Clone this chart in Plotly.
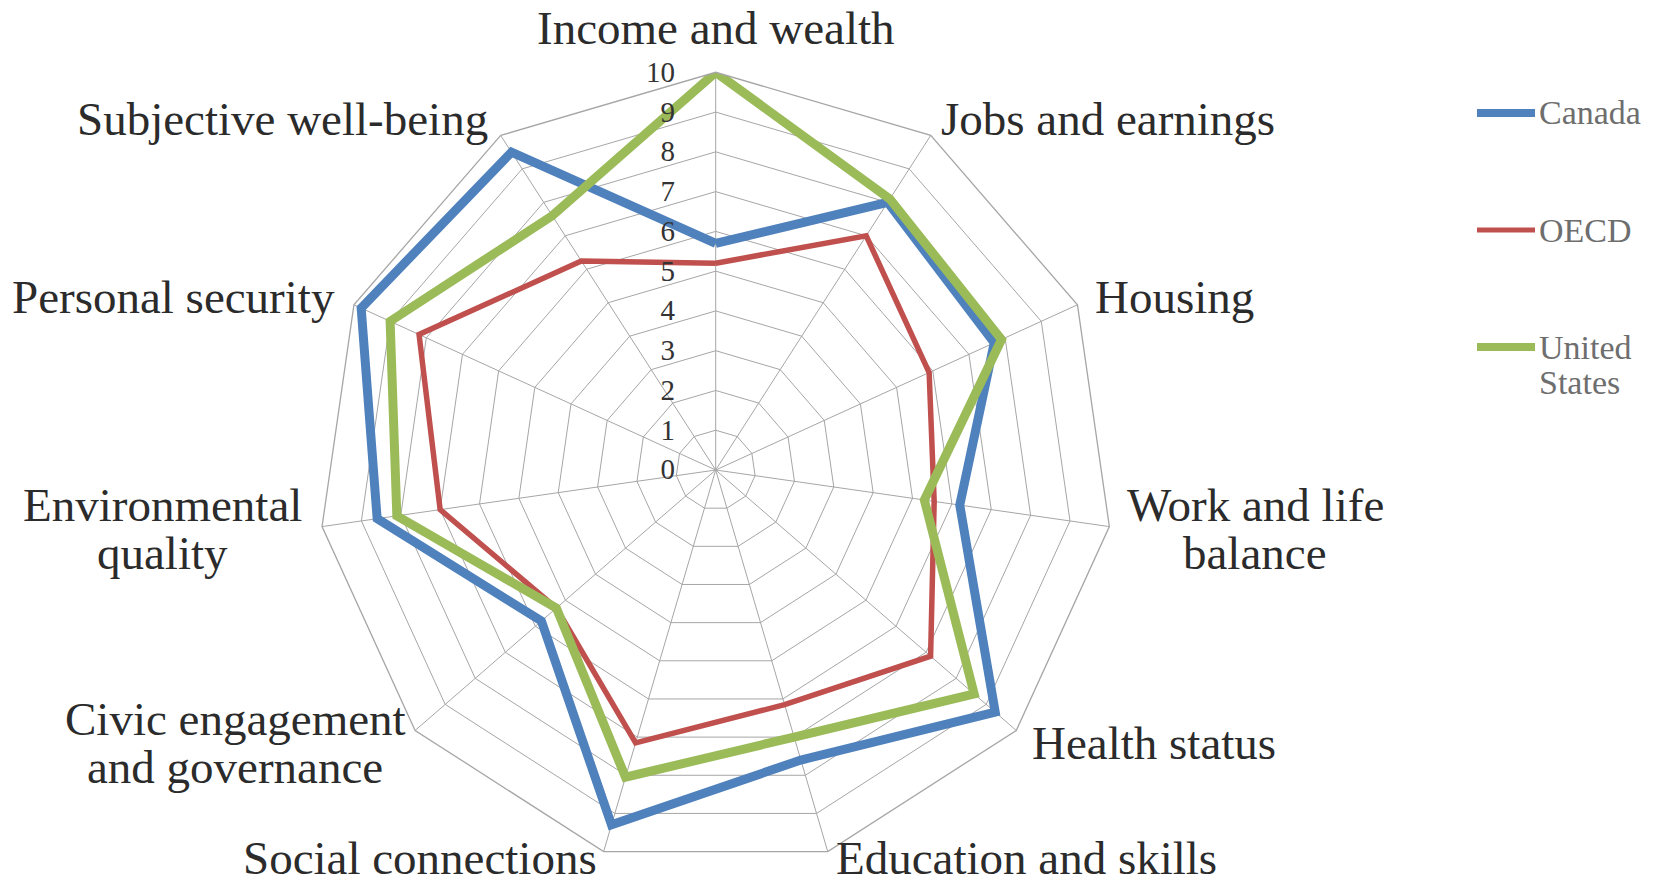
import plotly.graph_objects as go

# ---------------- data ----------------
categories = [
    "Income and wealth", "Jobs and earnings", "Housing", "Work and life balance",
    "Health status", "Education and skills", "Social connections",
    "Civic engagement and governance", "Environmental quality",
    "Personal security", "Subjective well-being",
]
label_lines = [
    ["Income and wealth"], ["Jobs and earnings"], ["Housing"], ["Work and life", "balance"],
    ["Health status"], ["Education and skills"], ["Social connections"],
    ["Civic engagement", "and governance"], ["Environmental", "quality"],
    ["Personal security"], ["Subjective well-being"],
]
canada = [5.7, 8.0, 7.7, 6.2, 9.3, 7.6, 9.3, 5.8, 8.6, 9.8, 9.5]
oecd = [5.2, 7.0, 5.9, 5.55, 7.15, 6.15, 7.15, 5.3, 7.0, 8.2, 6.25]
united_states = [10.0, 8.1, 7.9, 5.3, 8.6, 7.0, 8.05, 5.3, 8.1, 9.0, 7.6]
series_names = ["Canada", "OECD", "United States"]
legend_lines = [["Canada"], ["OECD"], ["United", "States"]]
radial_ticks = list(range(0, 11))

# ---------------- style ----------------
W, H = 1658, 886
colors = ["#4F81BD", "#C0504D", "#9BBB59"]
widths = [9, 5.5, 9]
grid = "#A6A6A6"
label_color = "#2B2B2B"
legend_color = "#6E6E6E"
serif = "Liberation Serif, Times New Roman, serif"

cx, cy, R = 715.7, 470.0, 397.7

fig = go.Figure()
for name, vals, col, w in zip(series_names, [canada, oecd, united_states], colors, widths):
    fig.add_trace(go.Scatterpolar(
        r=vals + vals[:1], theta=categories + categories[:1], mode="lines",
        name=name, line=dict(color=col, width=w), showlegend=False,
        hoverinfo="name+r+theta",
    ))

fig.update_layout(
    width=W, height=H, margin=dict(l=0, r=0, t=0, b=0),
    paper_bgcolor="white", plot_bgcolor="white",
    polar=dict(
        domain=dict(x=[(cx - R) / W, (cx + R) / W], y=[1 - (cy + R) / H, 1 - (cy - R) / H]),
        bgcolor="white", gridshape="linear",
        angularaxis=dict(direction="clockwise", rotation=90, showticklabels=False,
                         ticks="", gridcolor=grid, gridwidth=1.3,
                         showline=True, linecolor=grid, linewidth=1.3),
        radialaxis=dict(range=[0, 10], tickvals=radial_ticks, angle=90, tickangle=90,
                        side="counterclockwise", showline=False, gridcolor=grid, gridwidth=1.3,
                        ticks="outside", ticklen=30, tickcolor="rgba(0,0,0,0)",
                        tickfont=dict(family=serif, size=29, color="#333333")),
    ),
)

# category labels (layout positions in pixels)
label_pos = [
    [(716, 27.5, "center")], [(939, 119.5, "left")], [(1093, 297, "left")],
    [(1255, 505, "center"), (1255, 553, "center")], [(1030, 743, "left")],
    [(834, 858, "left")], [(599, 858, "right")],
    [(235, 719, "center"), (235, 767, "center")],
    [(162, 505, "center"), (162, 553, "center")],
    [(337, 297, "right")], [(490, 119.5, "right")],
]
for lines, poss in zip(label_lines, label_pos):
    for txt, (x, y, anc) in zip(lines, poss):
        fig.add_annotation(x=x / W, y=1 - y / H, xref="paper", yref="paper",
                           text=txt, showarrow=False, xanchor=anc, yanchor="middle",
                           font=dict(family=serif, size=47, color=label_color))

# manual legend
legend_y = [113, 230, 347]
for name, lines, col, w, y in zip(series_names, legend_lines, colors, widths, legend_y):
    fig.add_shape(type="line", xref="paper", yref="paper",
                  x0=1477 / W, x1=1535 / W, y0=1 - y / H, y1=1 - y / H,
                  line=dict(color=col, width=8 if w > 6 else 5))
    for i, txt in enumerate(lines):
        fig.add_annotation(x=1537 / W, y=1 - (y + i * 35) / H, xref="paper", yref="paper",
                           text=txt, showarrow=False, xanchor="left", yanchor="middle",
                           font=dict(family=serif, size=34, color=legend_color))

fig.write_html("out.html")
